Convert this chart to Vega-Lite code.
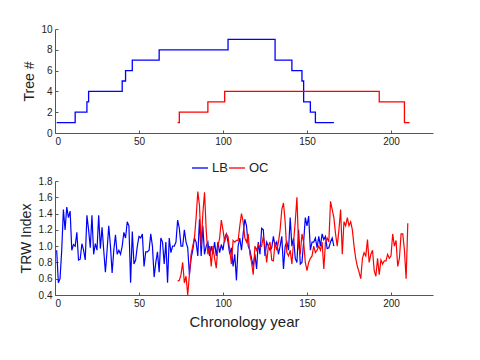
{
  "$schema": "https://vega.github.io/schema/vega-lite/v6.json",
  "padding": {"left": 19, "top": 24, "right": 40, "bottom": 5},
  "background": "white",
  "config": {
    "view": {"stroke": null},
    "axis": {"grid": false, "domainColor": "#555", "tickColor": "#555", "tickSize": -3, "labelPadding": 6, "labelFont": "Liberation Sans", "labelFontSize": 10, "labelColor": "#222", "titleFont": "Liberation Sans", "titleFontWeight": "normal", "titleFontSize": 14, "titleColor": "#222"},
    "legend": {"labelFont": "Liberation Sans", "labelFontSize": 13, "labelColor": "#222"}
  },
  "bounds": "flush",
  "spacing": 48,
  "resolve": {"legend": {"color": "independent"}},
  "datasets": {
    "steps": [
      {"year": 1, "trees": 1, "site": "LB"}, {"year": 12, "trees": 2, "site": "LB"}, {"year": 19, "trees": 3, "site": "LB"}, {"year": 20, "trees": 4, "site": "LB"}, {"year": 40, "trees": 5, "site": "LB"}, {"year": 42, "trees": 6, "site": "LB"}, {"year": 46, "trees": 7, "site": "LB"}, {"year": 62, "trees": 8, "site": "LB"}, {"year": 103, "trees": 9, "site": "LB"}, {"year": 131, "trees": 7, "site": "LB"}, {"year": 141, "trees": 6, "site": "LB"}, {"year": 147, "trees": 5, "site": "LB"}, {"year": 148, "trees": 3, "site": "LB"}, {"year": 152, "trees": 2, "site": "LB"}, {"year": 155, "trees": 1, "site": "LB"}, {"year": 166, "trees": 1, "site": "LB"},
      {"year": 73, "trees": 1, "site": "OC"}, {"year": 74, "trees": 2, "site": "OC"}, {"year": 91, "trees": 3, "site": "OC"}, {"year": 101, "trees": 4, "site": "OC"}, {"year": 193, "trees": 3, "site": "OC"}, {"year": 208, "trees": 1, "site": "OC"}, {"year": 211, "trees": 1, "site": "OC"}
    ],
    "lb": [
      {"year":1,"trw":0.95},{"year":2,"trw":0.55},{"year":3,"trw":0.6},{"year":4,"trw":0.95},{"year":5,"trw":1.45},{"year":6,"trw":1.2},{"year":7,"trw":1.48},{"year":8,"trw":1.35},{"year":9,"trw":1.43},{"year":10,"trw":0.95},
      {"year":11,"trw":1.02},{"year":12,"trw":1.0},{"year":13,"trw":1.17},{"year":14,"trw":0.83},{"year":15,"trw":0.84},{"year":16,"trw":1.03},{"year":17,"trw":0.95},{"year":18,"trw":0.83},{"year":19,"trw":1.38},{"year":20,"trw":1.2},
      {"year":21,"trw":0.98},{"year":22,"trw":1.38},{"year":23,"trw":0.9},{"year":24,"trw":1.03},{"year":25,"trw":0.95},{"year":26,"trw":1.38},{"year":27,"trw":0.97},{"year":28,"trw":1.23},{"year":29,"trw":0.95},{"year":30,"trw":0.68},
      {"year":31,"trw":0.95},{"year":32,"trw":1.25},{"year":33,"trw":1.0},{"year":34,"trw":0.67},{"year":35,"trw":0.95},{"year":36,"trw":1.14},{"year":37,"trw":0.9},{"year":38,"trw":0.95},{"year":39,"trw":0.9},{"year":40,"trw":1.0},
      {"year":41,"trw":1.17},{"year":42,"trw":1.1},{"year":43,"trw":1.3},{"year":44,"trw":1.25},{"year":45,"trw":0.55},{"year":46,"trw":1.18},{"year":47,"trw":0.78},{"year":48,"trw":0.83},{"year":49,"trw":1.0},{"year":50,"trw":1.12},
      {"year":51,"trw":1.1},{"year":52,"trw":1.15},{"year":53,"trw":0.75},{"year":54,"trw":0.93},{"year":55,"trw":0.93},{"year":56,"trw":0.95},{"year":57,"trw":1.15},{"year":58,"trw":1.0},{"year":59,"trw":0.62},{"year":60,"trw":0.8},
      {"year":61,"trw":0.93},{"year":62,"trw":0.68},{"year":63,"trw":1.1},{"year":64,"trw":1.05},{"year":65,"trw":0.78},{"year":66,"trw":1.05},{"year":67,"trw":0.55},{"year":68,"trw":1.1},{"year":69,"trw":0.92},{"year":70,"trw":1.0},
      {"year":71,"trw":1.0},{"year":72,"trw":1.05},{"year":73,"trw":1.32},{"year":74,"trw":1.22},{"year":75,"trw":1.0},{"year":76,"trw":1.0},{"year":77,"trw":1.2},{"year":78,"trw":1.05},{"year":79,"trw":0.98},{"year":80,"trw":0.65},
      {"year":81,"trw":0.85},{"year":82,"trw":0.95},{"year":83,"trw":1.1},{"year":84,"trw":1.05},{"year":85,"trw":0.88},{"year":86,"trw":1.33},{"year":87,"trw":0.88},{"year":88,"trw":1.25},{"year":89,"trw":0.9},{"year":90,"trw":1.0},
      {"year":91,"trw":1.05},{"year":92,"trw":0.88},{"year":93,"trw":1.0},{"year":94,"trw":0.9},{"year":95,"trw":1.05},{"year":96,"trw":0.88},{"year":97,"trw":1.05},{"year":98,"trw":0.92},{"year":99,"trw":1.02},{"year":100,"trw":0.95},
      {"year":101,"trw":1.1},{"year":102,"trw":1.15},{"year":103,"trw":1.05},{"year":104,"trw":0.9},{"year":105,"trw":0.98},{"year":106,"trw":0.75},{"year":107,"trw":0.9},{"year":108,"trw":0.58},{"year":109,"trw":1.0},{"year":110,"trw":1.1},
      {"year":111,"trw":0.95},{"year":112,"trw":1.15},{"year":113,"trw":1.33},{"year":114,"trw":1.25},{"year":115,"trw":1.0},{"year":116,"trw":0.95},{"year":117,"trw":0.85},{"year":118,"trw":0.75},{"year":119,"trw":0.9},{"year":120,"trw":0.72},
      {"year":121,"trw":1.05},{"year":122,"trw":0.9},{"year":123,"trw":1.22},{"year":124,"trw":1.2},{"year":125,"trw":0.88},{"year":126,"trw":1.05},{"year":127,"trw":1.0},{"year":128,"trw":0.95},{"year":129,"trw":0.98},{"year":130,"trw":1.12},
      {"year":131,"trw":1.0},{"year":132,"trw":1.05},{"year":133,"trw":0.9},{"year":134,"trw":1.0},{"year":135,"trw":1.12},{"year":136,"trw":0.72},{"year":137,"trw":1.0},{"year":138,"trw":1.05},{"year":139,"trw":0.95},{"year":140,"trw":1.35},
      {"year":141,"trw":1.0},{"year":142,"trw":1.1},{"year":143,"trw":0.85},{"year":144,"trw":0.8},{"year":145,"trw":1.2},{"year":146,"trw":0.78},{"year":147,"trw":0.8},{"year":148,"trw":1.05},{"year":149,"trw":1.35},{"year":150,"trw":1.25},
      {"year":151,"trw":1.37},{"year":152,"trw":0.95},{"year":153,"trw":1.05},{"year":154,"trw":1.05},{"year":155,"trw":1.1},{"year":156,"trw":0.98},{"year":157,"trw":1.12},{"year":158,"trw":1.0},{"year":159,"trw":1.15},{"year":160,"trw":1.08},
      {"year":161,"trw":1.12},{"year":162,"trw":0.97},{"year":163,"trw":0.98},{"year":164,"trw":1.05},{"year":165,"trw":1.1},{"year":166,"trw":1.0}
    ],
    "oc": [
      {"year":73,"trw":0.57},{"year":74,"trw":0.58},{"year":75,"trw":0.65},{"year":76,"trw":0.8},{"year":77,"trw":0.55},{"year":78,"trw":0.63},{"year":79,"trw":0.4},{"year":80,"trw":0.65},
      {"year":81,"trw":0.9},{"year":82,"trw":1.0},{"year":83,"trw":1.1},{"year":84,"trw":1.35},{"year":85,"trw":1.67},{"year":86,"trw":1.5},{"year":87,"trw":1.0},{"year":88,"trw":1.4},{"year":89,"trw":1.66},{"year":90,"trw":1.2},
      {"year":91,"trw":0.9},{"year":92,"trw":1.0},{"year":93,"trw":0.75},{"year":94,"trw":1.0},{"year":95,"trw":0.85},{"year":96,"trw":0.73},{"year":97,"trw":1.0},{"year":98,"trw":1.1},{"year":99,"trw":1.32},{"year":100,"trw":1.2},
      {"year":101,"trw":1.05},{"year":102,"trw":1.15},{"year":103,"trw":1.12},{"year":104,"trw":0.95},{"year":105,"trw":0.78},{"year":106,"trw":1.07},{"year":107,"trw":1.05},{"year":108,"trw":1.07},{"year":109,"trw":1.07},{"year":110,"trw":1.25},
      {"year":111,"trw":1.4},{"year":112,"trw":1.3},{"year":113,"trw":1.1},{"year":114,"trw":1.05},{"year":115,"trw":1.15},{"year":116,"trw":0.9},{"year":117,"trw":0.8},{"year":118,"trw":0.65},{"year":119,"trw":1.0},{"year":120,"trw":0.95},
      {"year":121,"trw":1.02},{"year":122,"trw":0.98},{"year":123,"trw":1.0},{"year":124,"trw":1.12},{"year":125,"trw":1.0},{"year":126,"trw":0.8},{"year":127,"trw":1.0},{"year":128,"trw":1.05},{"year":129,"trw":0.83},{"year":130,"trw":0.82},
      {"year":131,"trw":1.05},{"year":132,"trw":0.95},{"year":133,"trw":1.05},{"year":134,"trw":1.2},{"year":135,"trw":1.45},{"year":136,"trw":1.53},{"year":137,"trw":1.3},{"year":138,"trw":0.92},{"year":139,"trw":0.88},{"year":140,"trw":0.95},
      {"year":141,"trw":0.78},{"year":142,"trw":1.05},{"year":143,"trw":1.3},{"year":144,"trw":1.6},{"year":145,"trw":1.0},{"year":146,"trw":0.9},{"year":147,"trw":1.15},{"year":148,"trw":1.05},{"year":149,"trw":0.8},{"year":150,"trw":0.7},
      {"year":151,"trw":0.8},{"year":152,"trw":0.85},{"year":153,"trw":0.88},{"year":154,"trw":1.0},{"year":155,"trw":0.92},{"year":156,"trw":0.95},{"year":157,"trw":1.0},{"year":158,"trw":0.95},{"year":159,"trw":1.05},{"year":160,"trw":0.72},
      {"year":161,"trw":1.05},{"year":162,"trw":1.1},{"year":163,"trw":1.05},{"year":164,"trw":1.55},{"year":165,"trw":1.45},{"year":166,"trw":1.35},{"year":167,"trw":1.15},{"year":168,"trw":1.0},{"year":169,"trw":1.2},{"year":170,"trw":1.45},
      {"year":171,"trw":0.9},{"year":172,"trw":1.3},{"year":173,"trw":1.25},{"year":174,"trw":1.35},{"year":175,"trw":1.25},{"year":176,"trw":1.3},{"year":177,"trw":1.2},{"year":178,"trw":1.0},{"year":179,"trw":0.85},{"year":180,"trw":0.75},
      {"year":181,"trw":0.68},{"year":182,"trw":0.6},{"year":183,"trw":0.85},{"year":184,"trw":0.92},{"year":185,"trw":0.88},{"year":186,"trw":1.08},{"year":187,"trw":0.8},{"year":188,"trw":0.9},{"year":189,"trw":0.95},{"year":190,"trw":0.7},
      {"year":191,"trw":0.63},{"year":192,"trw":0.85},{"year":193,"trw":0.65},{"year":194,"trw":0.83},{"year":195,"trw":0.78},{"year":196,"trw":0.82},{"year":197,"trw":0.82},{"year":198,"trw":0.9},{"year":199,"trw":0.85},{"year":200,"trw":0.88},
      {"year":201,"trw":1.15},{"year":202,"trw":1.0},{"year":203,"trw":1.07},{"year":204,"trw":0.75},{"year":205,"trw":0.85},{"year":206,"trw":1.15},{"year":207,"trw":1.15},{"year":208,"trw":0.95},{"year":209,"trw":0.6},{"year":210,"trw":1.28}
    ]
  },
  "vconcat": [
    {
      "width": 378,
      "height": 104,
      "data": {"name": "steps"},
      "mark": {"type": "line", "interpolate": "step-after", "strokeWidth": 1.3},
      "encoding": {
        "x": {"field": "year", "type": "quantitative", "scale": {"domain": [0, 225], "nice": false}, "axis": {"title": null, "values": [0, 50, 100, 150, 200], "format": "d"}},
        "y": {"field": "trees", "type": "quantitative", "scale": {"domain": [0, 10], "nice": false}, "axis": {"title": "Tree #", "values": [0, 2, 4, 6, 8, 10], "titlePadding": 4}},
        "color": {"field": "site", "type": "nominal", "scale": {"domain": ["LB", "OC"], "range": ["#0000ff", "#ff0000"]}, "legend": null}
      }
    },
    {
      "width": 378,
      "height": 114,
      "layer": [
        {
          "data": {"name": "lb"},
          "transform": [{"calculate": "'LB'", "as": "site"}],
          "mark": {"type": "line", "strokeWidth": 1.2},
          "encoding": {
            "x": {"field": "year", "type": "quantitative"},
            "y": {"field": "trw", "type": "quantitative"},
            "color": {"field": "site", "type": "nominal"}
          }
        },
        {
          "data": {"name": "oc"},
          "transform": [{"calculate": "'OC'", "as": "site"}],
          "mark": {"type": "line", "strokeWidth": 1.2},
          "encoding": {
            "x": {"field": "year", "type": "quantitative"},
            "y": {"field": "trw", "type": "quantitative"},
            "color": {"field": "site", "type": "nominal"}
          }
        }
      ],
      "encoding": {
        "x": {"field": "year", "type": "quantitative", "scale": {"domain": [0, 225], "nice": false}, "axis": {"title": "Chronology year", "values": [0, 50, 100, 150, 200], "format": "d", "titlePadding": 6, "titleFontSize": 15}},
        "y": {"field": "trw", "type": "quantitative", "scale": {"domain": [0.4, 1.8], "nice": false}, "axis": {"title": "TRW Index", "values": [0.4, 0.6, 0.8, 1.0, 1.2, 1.4, 1.6, 1.8], "format": ".1f", "titlePadding": 5}},
        "color": {"field": "site", "type": "nominal", "scale": {"domain": ["LB", "OC"], "range": ["#0000ff", "#ff0000"]}, "legend": {"orient": "none", "legendX": 136, "legendY": -22, "direction": "horizontal", "title": null, "symbolType": "stroke", "symbolSize": 256, "symbolStrokeWidth": 1.3, "labelOffset": 3, "columnPadding": -2}}
      }
    }
  ]
}
